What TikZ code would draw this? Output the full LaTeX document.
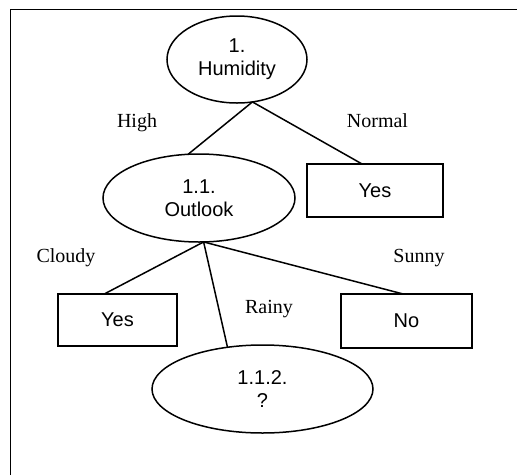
\documentclass[tikz,border=0pt]{standalone}
\usepackage{fontspec}
\setmainfont{Liberation Serif}
\newfontfamily\boxfont{Liberation Sans}
\usetikzlibrary{shapes.geometric}
\begin{document}
\begin{tikzpicture}[x=1pt,y=-1pt,
  every node/.style={inner sep=0pt,outer sep=0pt},
  treeline/.style={line width=1.5pt,black},
  testnode/.style={ellipse,draw,line width=1.5pt,align=center,
    font=\boxfont\fontsize{20}{23}\selectfont},
  leafnode/.style={rectangle,draw,line width=1.5pt,align=center,
    font=\boxfont\fontsize{20}{23}\selectfont},
  edgelabel/.style={anchor=base,font=\fontsize{20}{23}\selectfont}]
\useasboundingbox (0,0) rectangle (517,475);
% frame: top and left edges only
\draw[line width=1.5pt] (10.5,475) -- (10.5,9.5) -- (517,9.5);

% tree nodes
\node[testnode,minimum width=140,minimum height=87] (hum) at (237,59.5) {1.\\Humidity};
\node[testnode,minimum width=192,minimum height=88] (out) at (199,198) {1.1.\\Outlook};
\node[leafnode,minimum width=136,minimum height=53] (yesA) at (375,190.5) {Yes};
\node[leafnode,minimum width=119,minimum height=52] (yesB) at (117.5,320) {Yes};
\node[leafnode,minimum width=131,minimum height=54] (no) at (406.5,321) {No};
\node[testnode,minimum width=221,minimum height=88] (q) at (262.5,389) {1.1.2.\\?};

% branches
\draw[treeline] (hum.-70.6) -- (out.104);
\draw[treeline] (hum.-70.6) -- (yesA.116);
\draw[treeline] (out.-84.8) -- (yesB.117.4);
\draw[treeline] (out.-84.8) -- (q.130.4);
\draw[treeline] (out.-84.8) -- (no.97.4);

% branch labels
\node[edgelabel] (lhigh) at (137,127) {High};
\node[edgelabel] (lnormal) at (377.5,127) {Normal};
\node[edgelabel] (lcloudy) at (66,262) {Cloudy};
\node[edgelabel] (lsunny) at (419,262) {Sunny};
\node[edgelabel] (lrainy) at (269,313) {Rainy};
\end{tikzpicture}
\end{document}
